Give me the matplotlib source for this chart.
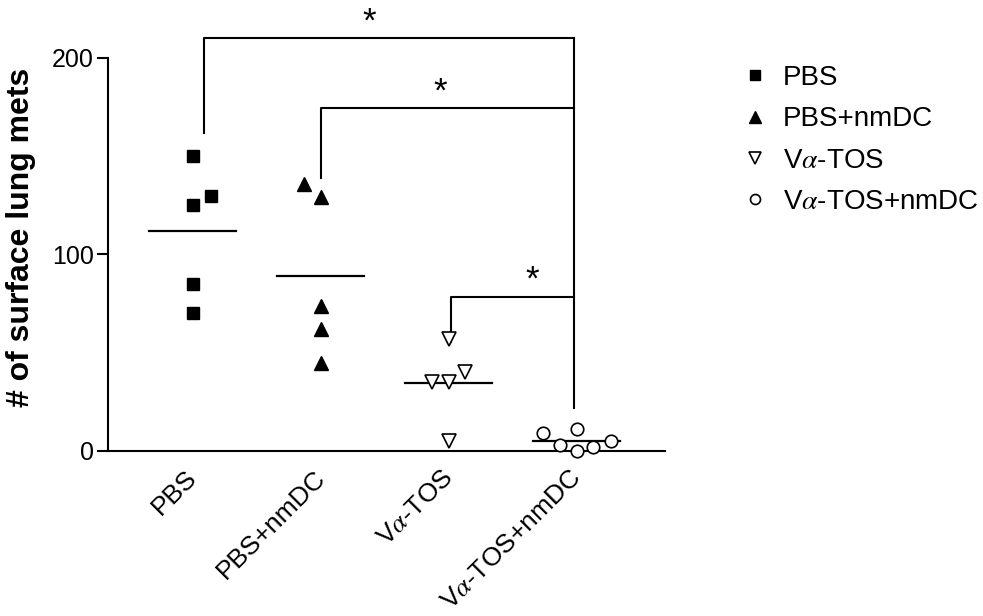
import numpy as np
import matplotlib
matplotlib.use("Agg")
import matplotlib.pyplot as plt
from matplotlib.lines import Line2D
from matplotlib.transforms import ScaledTranslation

plt.rcParams['font.family'] = ['Liberation Sans', 'DejaVu Sans']
plt.rcParams['mathtext.fontset'] = 'stix'

# groups and values
groups = ['PBS', 'PBS+nmDC', r'V$\alpha$-TOS', r'V$\alpha$-TOS+nmDC']
pbs = [150, 130, 125, 85, 70]
pbs_dx = [0, 0.14, 0, 0, 0]
pbs_nmdc = [136, 129, 74, 62, 45]
pbs_nmdc_dx = [-0.13, 0, 0, 0, 0]
vatos = [57, 35, 35, 40, 5]
vatos_dx = [0, -0.13, 0, 0.13, 0]
vatos_nmdc = [9, 11, 3, 0, 2, 5]
vatos_nmdc_dx = [-0.26, 0, -0.13, 0, 0.13, 0.27]

# significance brackets: (left x, left bottom, top y, star x, star y)
brackets = [
    (1.09, 162, 210, 2.38, 218),
    (2.0, 139, 174.5, 2.93, 182.5),
    (3.02, 55.5, 78.5, 3.65, 87),
]
bracket_right = 3.98
bracket_right_bottom = 22

fig = plt.figure(figsize=(9.83, 6.16), dpi=100)
ax = fig.add_axes([108 / 983, 165 / 616, (665 - 108) / 983, 451 / 616])

data = [pbs, pbs_nmdc, vatos, vatos_nmdc]
offs = [pbs_dx, pbs_nmdc_dx, vatos_dx, vatos_nmdc_dx]
styles = [
    dict(marker='s', ms=9, mfc='black', mec='black'),
    dict(marker='^', ms=10, mfc='black', mec='black'),
    dict(marker='v', ms=10, mfc='white', mec='black', mew=1.2),
    dict(marker='o', ms=9, mfc='white', mec='black', mew=1.2),
]

for i, (vals, dx, st) in enumerate(zip(data, offs, styles)):
    pos = i + 1
    m = np.mean(vals)
    ax.plot([pos - 0.34, pos + 0.34], [m, m], color='black', lw=1.6, zorder=2)
    ax.plot(pos + np.array(dx), vals, ls='none', clip_on=False, zorder=3, **st)

for lx, lb, ty, sx, sy in brackets:
    ax.plot([lx, lx, bracket_right], [lb, ty, ty], color='black', lw=1.5, clip_on=False)
    ax.text(sx, sy, '*', fontsize=25, ha='center', va='center')
ax.plot([bracket_right, bracket_right], [brackets[0][2], bracket_right_bottom],
        color='black', lw=1.5, clip_on=False)

ax.set_xlim(0.336, 4.69)
ax.set_ylim(0, 229.5)
for s in ['top', 'right']:
    ax.spines[s].set_visible(False)
ax.spines['left'].set_bounds(0, 200)
ax.spines['left'].set_linewidth(1.5)
ax.spines['bottom'].set_linewidth(1.5)

ax.set_yticks([0, 100, 200])
ax.tick_params(axis='y', length=8, width=1.5, labelsize=18, pad=2)
ax.set_xticks([1, 2, 3, 4])
ax.set_xticklabels(groups, rotation=45, ha='right', rotation_mode='anchor', fontsize=19)
ax.tick_params(axis='x', length=0, pad=14)
shift = ScaledTranslation(-8 / 100, 5 / 100, fig.dpi_scale_trans)
for lab in ax.get_xticklabels():
    lab.set_transform(lab.get_transform() + shift)
ax.set_ylabel('# of surface lung mets', fontsize=23, fontweight='bold')
ax.yaxis.set_label_coords(-0.13, 0.4745)

handles = [Line2D([], [], ls='none', **dict(st, ms=st['ms'] * 0.8)) for st in styles]
fig.legend(handles, groups, loc='upper left', bbox_to_anchor=(741 / 983, 1 - 65 / 616),
           frameon=False, fontsize=20, handlelength=1.0, handletextpad=0.5,
           borderpad=0, borderaxespad=0, labelspacing=0.55)

fig.savefig('out.png', dpi=100)
